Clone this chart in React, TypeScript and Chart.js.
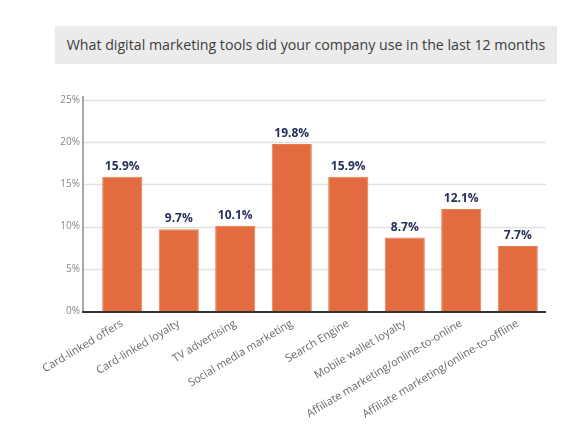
import React, { useEffect, useRef } from "react";
import { Chart, registerables } from "chart.js";

Chart.register(...registerables);

const categories = [
  "Card-linked offers",
  "Card-linked loyalty",
  "TV advertising",
  "Social media marketing",
  "Search Engine",
  "Mobile wallet loyalty",
  "Affiliate marketing/online-to-online",
  "Affiliate marketing/online-to-offline",
];
const values = [15.9, 9.7, 10.1, 19.8, 15.9, 8.7, 12.1, 7.7];
const yTicks = [0, 5, 10, 15, 20, 25];
const title = "What digital marketing tools did your company use in the last 12 months";

const FONT = "'Open Sans', 'Noto Sans', sans-serif";

export default function App() {
  const ref = useRef<HTMLCanvasElement | null>(null);

  useEffect(() => {
    if (!ref.current) return;
    const gridPlugin = {
      id: "customGrid",
      beforeDatasetsDraw(chart: any) {
        const { ctx, chartArea, scales } = chart;
        const y = scales.y;
        const axisX = chartArea.left - 11;
        ctx.save();
        ctx.strokeStyle = "#e2e2e2";
        ctx.lineWidth = 1.5;
        yTicks.forEach((t) => {
          if (t === 0) return;
          const py = Math.round(y.getPixelForValue(t)) + 0.5;
          ctx.beginPath();
          ctx.moveTo(axisX, py);
          ctx.lineTo(chartArea.right, py);
          ctx.stroke();
        });
        ctx.strokeStyle = "#a8a8a8";
        ctx.lineWidth = 2;
        ctx.beginPath();
        ctx.moveTo(axisX, y.getPixelForValue(25) - 4);
        ctx.lineTo(axisX, y.getPixelForValue(0));
        ctx.stroke();
        ctx.restore();
      },
      afterDatasetsDraw(chart: any) {
        const { ctx, chartArea, scales } = chart;
        const y = scales.y;
        const axisX = chartArea.left - 11;
        ctx.save();
        ctx.strokeStyle = "#333333";
        ctx.lineWidth = 2;
        const py = y.getPixelForValue(0) + 1;
        ctx.beginPath();
        ctx.moveTo(axisX - 1, py);
        ctx.lineTo(chartArea.right, py);
        ctx.stroke();
        const meta = chart.getDatasetMeta(0);
        ctx.fillStyle = "#25305a";
        ctx.font = `bold 12px ${FONT}`;
        ctx.textAlign = "center";
        ctx.textBaseline = "alphabetic";
        meta.data.forEach((bar: any, i: number) => {
          ctx.fillText(values[i].toFixed(1) + "%", bar.x, bar.y - 7);
        });
        ctx.restore();
      },
    };

    const chart = new Chart(ref.current, {
      type: "bar",
      data: {
        labels: categories,
        datasets: [
          {
            data: values,
            backgroundColor: "#e26b3f",
            borderColor: "#ea7a50",
            borderWidth: 1,
            barPercentage: 0.71,
            categoryPercentage: 1,
          },
        ],
      },
      options: {
        animation: false,
        responsive: false,
        maintainAspectRatio: false,
        layout: { padding: { top: 100, right: 30, left: 0, bottom: 0 } },
        plugins: {
          legend: { display: false },
          tooltip: { enabled: false },
          title: { display: false },
        },
        scales: {
          x: {
            grid: { display: false, drawTicks: false },
            border: { display: false },
            afterFit(scale: any) {
              scale.height = 130;
            },
            ticks: {
              minRotation: 31,
              maxRotation: 31,
              autoSkip: false,
              padding: 6,
              color: "#6a6a6a",
              font: { family: FONT, size: 11 },
            },
          },
          y: {
            min: 0,
            max: 25,
            afterFit(scale: any) {
              scale.width = 94;
            },
            grid: { display: false, drawTicks: false },
            border: { display: false },
            ticks: {
              stepSize: 5,
              padding: 14,
              color: "#888",
              font: { family: FONT, size: 10 },
              callback: (v: any) => v + "%",
            },
          },
        },
      },
      plugins: [gridPlugin],
    });
    return () => chart.destroy();
  }, []);

  return (
    <div style={{ position: "absolute", left: 0, top: 0, width: 576, height: 441, background: "#fff" }}>
      <div
        style={{
          position: "absolute",
          left: 55,
          top: 26,
          width: 502,
          height: 38,
          background: "#ebebeb",
          color: "#3d3d3d",
          fontFamily: FONT,
          fontSize: 14.2,
          lineHeight: "38px",
          textAlign: "center",
          whiteSpace: "nowrap",
        }}
      >
        {title}
      </div>
      <canvas ref={ref} width={576} height={441} style={{ position: "absolute", left: 0, top: 0 }} />
    </div>
  );
}
